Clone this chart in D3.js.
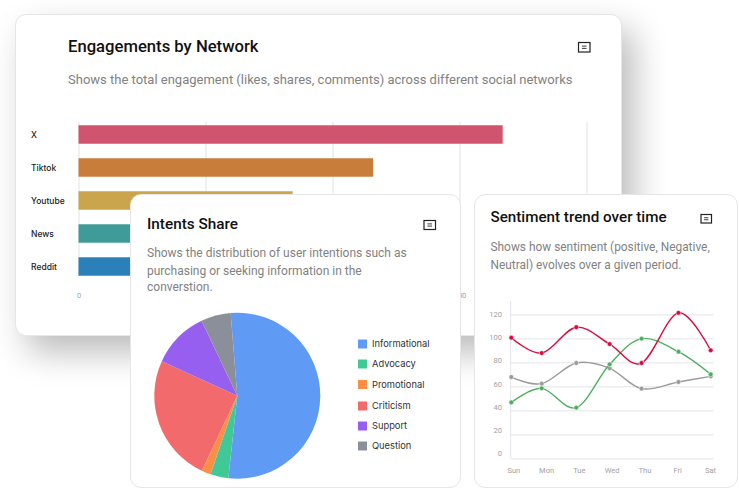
<!DOCTYPE html>
<html>
<head>
<meta charset="utf-8">
<script src="https://cdn.jsdelivr.net/npm/d3@7"></script>
<style>
  html, body { margin: 0; padding: 0; background: #fff; width: 739px; height: 489px; overflow: hidden; }
  .card { position: absolute; box-sizing: border-box; background: #fff; border: 1px solid #e6e6e6; border-radius: 11px; overflow: hidden; }
  #card-network { box-shadow: 12px 16px 34px rgba(0, 0, 0, 0.27); }
  .card svg { position: absolute; left: -1px; top: -1px; display: block; }
  .title { font-family: Roboto, sans-serif; font-weight: 500; fill: #111; }
  .sub { font-family: Roboto, sans-serif; fill: #828282; }
  .cat { font-family: Inter, sans-serif; font-size: 8.5px; font-weight: 500; fill: #222; }
  .legend-label { font-family: Inter, sans-serif; font-size: 9.3px; fill: #333; }
  .tick text { font-family: Roboto, sans-serif; font-size: 7.5px; fill: #a2a2a2; }
</style>
</head>
<body>
<div class="card" id="card-network"></div>
<div class="card" id="card-intents"></div>
<div class="card" id="card-sentiment"></div>
<script>
// values
const networks = [
  { name: 'X', value: 167, color: '#d0546d' },
  { name: 'Tiktok', value: 116, color: '#c97d3a' },
  { name: 'Youtube', value: 84.3, color: '#cba44e' },
  { name: 'News', value: 62, color: '#3e9b98' },
  { name: 'Reddit', value: 48, color: '#2b80b9' },
];

const intents = [
  { name: 'Informational', value: 53, color: '#5f9bf5', y: 344 },
  { name: 'Advocacy', value: 3.5, color: '#40c997', y: 364 },
  { name: 'Promotional', value: 1.8, color: '#fb8f45', y: 384.5 },
  { name: 'Criticism', value: 24.8, color: '#f26a6c', y: 406 },
  { name: 'Support', value: 11.1, color: '#975ff0', y: 426 },
  { name: 'Question', value: 5.8, color: '#8a8f99', y: 446 },
];

// day position is not even in the source, so it is kept with the data
const days = [
  { name: 'Sun', t: 0 },
  { name: 'Mon', t: 0.915 },
  { name: 'Tue', t: 1.956 },
  { name: 'Wed', t: 2.96 },
  { name: 'Thu', t: 3.92 },
  { name: 'Fri', t: 5.03 },
  { name: 'Sat', t: 6 },
];
const sentiment = [
  { color: '#9c9a9c', values: [67.7, 62.2, 79.4, 75, 58, 63.6, 68.3] },
  { color: '#4caf5f', values: [46.6, 58.3, 42.2, 78.3, 99.7, 88.8, 70] },
  { color: '#dc0b3c', values: [100.5, 87.7, 109.2, 95.2, 79.4, 121.2, 90] },
];

/**
 * Create a card at page position, the returned group uses page coordinates
 */
function initCard(selector, left, top, width, height) {
  const card = d3.select(selector)
    .style('left', left + 'px')
    .style('top', top + 'px')
    .style('width', width + 'px')
    .style('height', height + 'px');
  const svg = card.append('svg').attr('width', width).attr('height', height);
  return svg.append('g').attr('transform', 'translate(' + -left + ', ' + -top + ')');
}

function drawHeader(g, title, titleSize, x, titleY, lines, subSize, icon) {
  g.append('text').attr('class', 'title').attr('x', x).attr('y', titleY)
    .style('font-size', titleSize + 'px').text(title);
  g.selectAll('.sub').data(lines).enter().append('text')
    .attr('class', 'sub').attr('x', x).attr('y', d => d.y)
    .style('font-size', subSize + 'px').text(d => d.text);

  // the small note icon
  const ig = g.append('g').attr('transform', 'translate(' + icon.x + ', ' + icon.y + ')');
  ig.append('rect').attr('width', icon.w).attr('height', icon.h)
    .attr('fill', 'none').attr('stroke', '#222').attr('stroke-width', 1.2);
  [0.38, 0.62].forEach(function(f) {
    ig.append('line').attr('x1', icon.w * 0.3).attr('x2', icon.w * 0.7)
      .attr('y1', icon.h * f).attr('y2', icon.h * f)
      .attr('stroke', '#222').attr('stroke-width', 0.9);
  });
}

function drawNetwork() {
  const g = initCard('#card-network', 15, 14, 607, 322);
  drawHeader(g, 'Engagements by Network', 16.65, 68, 52,
    [{ text: 'Shows the total engagement (likes, shares, comments) across different social networks', y: 84 }],
    13, { x: 578.5, y: 42.5, w: 11.5, h: 9.5 });

  const x = d3.scaleLinear().domain([0, 200]).range([78.5, 586.5]);
  const y = d3.scaleBand().domain(networks.map(d => d.name)).range([118, 283]).paddingInner(0.44).paddingOuter(0.22);

  // 50 and 100 lie under the intents card
  const axis = g.append('g').attr('transform', 'translate(0, 276)')
    .call(d3.axisBottom(x).tickValues([0, 50, 100, 150, 200]).tickSize(-154).tickPadding(17)
      .tickFormat(d => (d === 50 || d === 100 ? '' : d)));
  axis.select('.domain').remove();
  axis.selectAll('.tick line').attr('stroke', '#e2e2e2');

  g.selectAll('.bar').data(networks).enter().append('rect')
    .attr('class', 'bar').attr('x', x(0)).attr('y', d => y(d.name))
    .attr('width', d => x(d.value) - x(0)).attr('height', y.bandwidth())
    .attr('fill', d => d.color);

  g.selectAll('.cat').data(networks).enter().append('text')
    .attr('class', 'cat').attr('x', 31).attr('y', d => y(d.name) + y.bandwidth() / 2 + 3)
    .text(d => d.name);
}

function drawIntents() {
  const g = initCard('#card-intents', 130, 194, 331, 294);
  drawHeader(g, 'Intents Share', 15.3, 147, 229, [
    { text: 'Shows the distribution of user intentions such as', y: 257 },
    { text: 'purchasing or seeking information in the', y: 275 },
    { text: 'converstion.', y: 291 },
  ], 12, { x: 424, y: 220.5, w: 11.5, h: 9 });

  const start = (-4.6 * Math.PI) / 180;
  const pie = d3.pie().value(d => d.value).sort(null).startAngle(start).endAngle(start + 2 * Math.PI);
  const arc = d3.arc().innerRadius(0).outerRadius(83);

  g.append('g').attr('transform', 'translate(237.3, 395.7)')
    .selectAll('path').data(pie(intents)).enter().append('path')
    .attr('d', arc).attr('fill', d => d.data.color);

  const legend = g.selectAll('.legend').data(intents).enter().append('g')
    .attr('class', 'legend').attr('transform', d => 'translate(358, ' + d.y + ')');
  legend.append('rect').attr('y', -4.5).attr('width', 9).attr('height', 9).attr('fill', d => d.color);
  legend.append('text').attr('class', 'legend-label').attr('x', 14).attr('y', 3.2).text(d => d.name);
}

function drawSentiment() {
  const g = initCard('#card-sentiment', 474, 194, 264, 294);
  drawHeader(g, 'Sentiment trend over time', 15.2, 490.5, 222, [
    { text: 'Shows how sentiment (positive, Negative,', y: 251 },
    { text: 'Neutral) evolves over a given period.', y: 269 },
  ], 11.9, { x: 701, y: 214.5, w: 10.5, h: 8.5 });

  const x = d3.scaleLinear().domain([0, 6]).range([511.3, 710.7]);
  const y = d3.scaleLinear().domain([0, 120]).range([458.3, 314.3]);

  // grid
  const grid = g.append('g').attr('transform', 'translate(510.7, 0)')
    .call(d3.axisLeft(y).tickValues(d3.range(0, 121, 20)).tickSize(-203.3).tickFormat(''));
  grid.select('.domain').remove();
  grid.selectAll('.tick line').attr('stroke', '#e4e4ea');
  g.append('line').attr('x1', 510.7).attr('x2', 510.7).attr('y1', 301).attr('y2', 458.3).attr('stroke', '#e4e4ea');

  // tick labels sit on a slightly tighter spacing than the grid
  const yLabel = d3.scaleLinear().domain([0, 120]).range([453, 314.3]);
  const yAxis = g.append('g').attr('transform', 'translate(502, 0)')
    .call(d3.axisLeft(yLabel).tickValues(d3.range(0, 121, 20)).tickSize(0).tickPadding(0));
  yAxis.select('.domain').remove();

  const xLabel = d3.scalePoint().domain(days.map(d => d.name)).range([513.3, 710]);
  const xAxis = g.append('g').attr('transform', 'translate(0, 465)')
    .call(d3.axisBottom(xLabel).tickSize(0).tickPadding(3));
  xAxis.select('.domain').remove();

  const line = d3.line().x((d, i) => x(days[i].t)).y(d => y(d)).curve(d3.curveCardinal.tension(0));

  sentiment.forEach(function(s) {
    g.append('path').attr('d', line(s.values)).attr('fill', 'none')
      .attr('stroke', s.color).attr('stroke-width', 1.4);
    g.selectAll(null).data(s.values).enter().append('circle')
      .attr('cx', (d, i) => x(days[i].t)).attr('cy', d => y(d)).attr('r', 2.4)
      .attr('fill', s.color).attr('stroke', '#fff').attr('stroke-width', 0.5);
  });
}

drawNetwork();
drawIntents();
drawSentiment();
</script>
</body>
</html>
